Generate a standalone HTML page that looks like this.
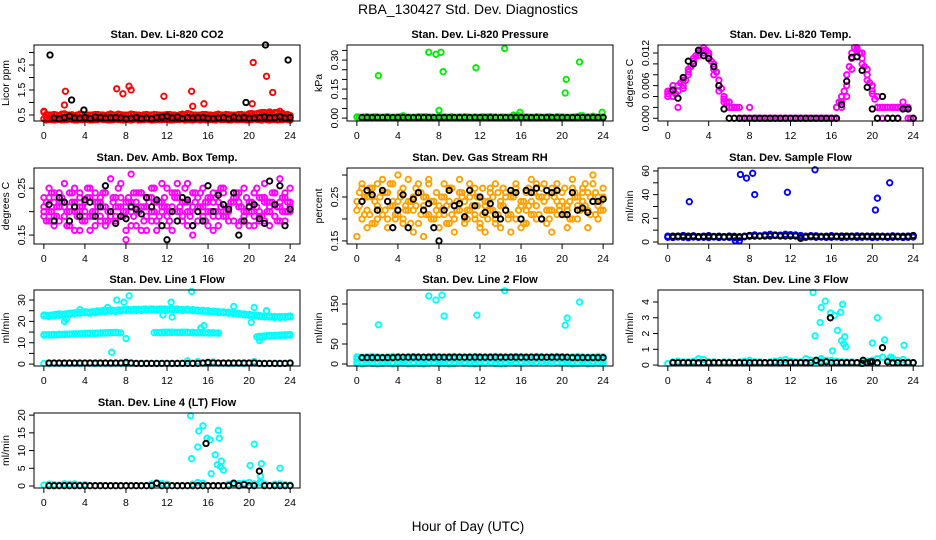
<!DOCTYPE html>
<html><head><meta charset="utf-8"><style>
body{margin:0;background:#fff}
svg{display:block}
text{font-family:"Liberation Sans",sans-serif;fill:#000}
.ttl{font-weight:bold;font-size:11px}
.tk{font-size:10.5px}
</style></head><body>
<svg id="chart" width="936" height="540" viewBox="0 0 936 540">
<text x="468" y="14" text-anchor="middle" font-size="14">RBA_130427  Std. Dev. Diagnostics</text>
<text x="468" y="531" text-anchor="middle" font-size="13.5">Hour of Day (UTC)</text>
</svg>
<script>
const HOURS=[0,0.5,1,1.5,2,2.5,3,3.5,4,4.5,5,5.5,6,6.5,7,7.5,8,8.5,9,9.5,10,10.5,11,11.5,12,12.5,13,13.5,14,14.5,15,15.5,16,16.5,17,17.5,18,18.5,19,19.5,20,20.5,21,21.5,22,22.5,23,23.5,24];
const HOURS2=[0.25,0.75,1.25,1.75,2.25,2.75,3.25,3.75,4.25,4.75,5.25,5.75,6.25,6.75,7.25,7.75,8.25,8.75,9.25,9.75,10.25,10.75,11.25,11.75,12.25,12.75,13.25,13.75,14.25,14.75,15.25,15.75,16.25,16.75,17.25,17.75,18.25,18.75,19.25,19.75,20.25,20.75,21.25,21.75,22.25,22.75,23.25,23.75];
const xTicks=[0,4,8,12,16,20,24];
// P1 CO2
const co2RedA=[0.35,0.32,0.3,0.33,0.31,0.34,0.3,0.32,0.33,0.3,0.31,0.34,0.32,0.3,0.33,0.31,0.32,0.3,0.34,0.31,0.33,0.3,0.32,0.31,0.33,0.3,0.32,0.34,0.31,0.3,0.33,0.32,0.3,0.31,0.34,0.32,0.3,0.33,0.31,0.32,0.3,0.34,0.31,0.33,0.3,0.32,0.31,0.33,0.3];
const co2RedB=[0.62,0.5,0.52,0.48,0.55,0.5,0.47,0.53,0.5,0.49,0.52,0.5,0.48,0.54,0.5,0.51,0.49,0.53,0.5,0.48,0.52,0.5,0.51,0.49,0.52,0.5,0.48,0.53,0.56,0.5,0.49,0.52,0.5,0.48,0.53,0.5,0.51,0.49,0.52,0.5,0.55,0.53,0.58,0.6,0.62,0.6,0.55,0.5,0.48];
const co2RedC=[0.4,0.42,0.38,0.41,0.4,0.43,0.39,0.4,0.42,0.38,0.41,0.4,0.43,0.39,0.4,0.42,0.38,0.41,0.4,0.43,0.39,0.4,0.42,0.38,0.41,0.4,0.43,0.39,0.4,0.42,0.38,0.41,0.4,0.43,0.39,0.4,0.42,0.38,0.41,0.4,0.45,0.42,0.5,0.48,0.52,0.45,0.42,0.4];
const co2RedD=[0.3,0.31,0.32,0.3,0.31,0.32,0.3,0.31,0.32,0.3,0.31,0.32,0.3,0.31,0.32,0.3,0.31,0.32,0.3,0.31,0.32,0.3,0.31,0.32,0.3,0.31,0.32,0.3,0.31,0.32,0.3,0.31,0.32,0.3,0.31,0.32,0.3,0.31,0.32,0.3,0.31,0.32,0.3,0.31,0.32,0.3,0.31,0.32];
const co2RedE=[0.52,0.5,0.5,0.53,0.5,0.51,0.5,0.52,0.5,0.5,0.52,0.5,0.51,0.5,0.53,0.5,0.5,0.52,0.5,0.51,0.5,0.52,0.5,0.5,0.52,0.5,0.51,0.5,0.53,0.5,0.5,0.52,0.5,0.51,0.5,0.52,0.5,0.5,0.52,0.5,0.56,0.55,0.6,0.58,0.55,0.6,0.56,0.52];
const co2RedOutX=[0,2,2.1,7.1,7.7,8.3,8.5,11.7,14.4,14.5,15.6,20.3,20.4,21.7,22.3,23,22];
const co2RedOutY=[0.65,0.9,1.45,1.55,1.35,1.65,1.5,1.25,1.45,0.85,0.95,0.95,2.6,2.05,1.4,0.65,0.6];
const co2Black=[null,null,0.38,0.35,0.4,0.45,0.38,0.37,0.4,0.36,0.42,0.4,0.38,0.39,0.4,0.38,0.35,0.37,0.4,0.36,0.38,0.35,0.4,0.42,0.45,0.38,0.42,0.36,0.4,0.38,0.39,0.4,0.37,0.36,0.38,0.4,0.35,0.42,0.38,0.4,0.37,0.38,0.4,0.42,0.39,0.4,0.43,0.38,0.4];
const co2BlackOutX=[0.6,2.7,3.9,19.7,21.6,23.8];
const co2BlackOutY=[2.9,1.1,0.7,1.0,3.3,2.7];
// P2 Pressure
const presGreen=[0.006,0.004,0.008,0.005,0.006,0.004,0.007,0.005,0.006,0.012,0.005,0.004,0.008,0.006,0.005,0.004,0.007,0.006,0.005,0.004,0.006,0.007,0.005,0.006,0.004,0.005,0.008,0.006,0.005,0.004,0.006,0.012,0.01,0.006,0.005,0.008,0.004,0.006,0.005,0.007,0.006,0.004,0.005,0.008,0.012,0.006,0.01,0.005,0.006];
const presGreen2=[0.005,0.006,0.004,0.007,0.005,0.006,0.004,0.005,0.007,0.006,0.004,0.005,0.006,0.007,0.005,0.004,0.006,0.005,0.007,0.004,0.005,0.006,0.004,0.005,0.007,0.006,0.005,0.004,0.006,0.005,0.015,0.012,0.006,0.005,0.004,0.006,0.005,0.007,0.004,0.006,0.005,0.004,0.006,0.012,0.005,0.004,0.006,0.005];
const presGreenOutX=[2.1,7,7.7,8.2,8.4,8,11.6,14.4,20.3,20.4,21.7,23.9,15.9];
const presGreenOutY=[0.22,0.34,0.33,0.34,0.24,0.04,0.26,0.36,0.13,0.2,0.29,0.03,0.03];
const presBlack=[null,0.003,0.003,0.003,0.003,0.003,0.003,0.003,0.003,0.003,0.003,0.003,0.003,0.003,0.003,0.003,0.003,0.003,0.003,0.003,0.003,0.003,0.003,0.003,0.003,0.003,0.003,0.003,0.003,0.003,0.003,0.003,0.003,0.003,0.003,0.003,0.003,0.003,0.003,0.003,0.003,0.003,0.003,0.003,0.003,0.003,0.003,0.003,0.003];
// P3 Temp
const tempMagA=[0.004,0.006,0.005,0.007,0.009,0.011,0.012,0.013,0.012,0.010,0.007,0.004,0.003,0.002,0.002,0,0,0,0,0,0,0,0,0,0,0,0,0,0,0,0,0,0,0,0.002,0.006,0.011,0.013,0.012,0.009,0.006,0.004,0.002,0.002,0.002,0.002,0.002,0.002,0];
const tempMagB=[0.0045,0.004,0.002,0.0055,0.008,0.010,0.0115,0.012,0.011,0.008,0.005,0.003,0.002,0.002,0,0,0.002,0,0,0,0,0,0,0,0,0,0,0,0,0,0,0,0,0.002,0.004,0.004,0.009,0.0125,0.010,0.007,0.0045,0.002,0,0,0,0,0.003,0,0];
const tempMagC=[0.005,0.005,0.006,0.006,0.0085,0.0105,0.0125,0.0125,0.0115,0.009,0.006,0.0035,0.002,null,null,null,null,null,null,null,null,null,null,null,null,null,null,null,null,null,null,null,null,0.002,0.003,0.008,0.012,0.0128,0.011,0.008,0.005,0.002,0.002,null,0.002,0.002,0.002,null,null];
const tempMagD=[0.005,0.0045,0.0065,0.007,0.0095,0.0115,0.0125,0.0125,0.0105,0.0085,0.0055,0.003,0.002,0.002,0,0,0,0,0,0,0,0,0,0,0,0,0,0,0,0,0,0,0,0.003,0.005,0.0095,0.013,0.012,0.0095,0.0065,0.0035,0.002,0.002,0.002,0.002,0.002,0.002,0];
const tempBlack=[null,0.0052,0.0037,0.0075,0.0105,0.010,0.0125,0.0115,0.011,0.0095,0.006,0.0017,0,0,0,0,0,0,0,0,0,0,0,0,0,0,0,0,0,0,0,0,0,0,0.0025,0.0068,0.0112,0.0113,0.0088,0.0057,0.0017,0,0.004,0,0,0,0.0017,0.0017,0];
// P4 Amb box temp
const ambMagA=[0.21,0.23,0.19,0.24,0.22,0.2,0.25,0.21,0.19,0.23,0.2,0.22,0.24,0.19,0.21,0.23,0.2,0.22,0.24,0.21,0.19,0.23,0.22,0.2,0.25,0.21,0.23,0.19,0.22,0.24,0.2,0.21,0.23,0.19,0.22,0.24,0.2,0.23,0.21,0.19,0.22,0.24,0.2,0.23,0.21,0.19,0.22,0.24,0.2];
const ambMagB=[0.19,0.2,0.22,0.18,0.21,0.24,0.2,0.23,0.22,0.19,0.24,0.18,0.21,0.2,0.23,0.19,0.22,0.2,0.21,0.24,0.23,0.2,0.18,0.22,0.21,0.2,0.24,0.22,0.2,0.21,0.23,0.19,0.2,0.22,0.24,0.19,0.21,0.22,0.24,0.2,0.21,0.19,0.23,0.22,0.2,0.24,0.21,0.23,0.22];
const ambMagC=[0.23,0.18,0.24,0.21,0.26,0.17,0.22,0.16,0.2,0.25,0.17,0.23,0.18,0.27,0.18,0.26,0.16,0.28,0.17,0.24,0.16,0.25,0.18,0.26,0.17,0.24,0.26,0.18,0.26,0.17,0.18,0.25,0.17,0.24,0.17,0.25,0.18,0.24,0.17,0.25,0.17,0.24,0.18,0.26,0.17,0.24,0.27,0.18,0.25];
const ambMagD=[0.2,0.25,0.17,0.22,0.19,0.21,0.16,0.24,0.18,0.16,0.22,0.19,0.17,0.2,0.19,0.21,0.14,0.17,0.22,0.16,0.21,0.18,0.16,0.21,0.19,0.16,0.2,0.23,0.17,0.15,0.21,0.2,0.22,0.16,0.19,0.2,0.21,0.18,0.22,0.18,0.2,0.17,0.19,0.18,0.22,0.19,0.18,0.2,0.21];
const ambMagE=[0.22,0.2,0.21,0.23,0.2,0.22,0.19,0.21,0.23,0.2,0.22,0.21,0.2,0.23,0.21,0.19,0.22,0.24,0.2,0.21,0.23,0.2,0.22,0.21,0.2,0.23,0.21,0.22,0.2,0.24,0.21,0.22,0.2,0.23,0.21,0.2,0.22,0.23,0.21,0.2,0.22,0.21,0.23,0.2,0.22,0.21,0.2,0.22];
const ambMagF=[0.18,0.24,0.19,0.22,0.17,0.24,0.2,0.18,0.25,0.19,0.21,0.24,0.18,0.22,0.25,0.2,0.23,0.19,0.24,0.18,0.22,0.25,0.19,0.23,0.18,0.24,0.2,0.25,0.19,0.22,0.24,0.18,0.23,0.2,0.25,0.19,0.22,0.24,0.18,0.23,0.2,0.25,0.19,0.22,0.24,0.18,0.23,0.2];
const ambBlack=[null,0.215,0.18,0.23,0.22,0.18,0.21,0.19,0.225,0.22,0.19,0.21,0.255,0.2,0.175,0.19,0.185,0.21,0.205,0.195,0.23,0.21,0.225,0.17,0.14,0.2,0.18,0.23,0.225,0.17,0.2,0.18,0.255,0.2,0.235,0.215,0.205,0.24,0.15,0.18,0.21,0.215,0.185,0.175,0.265,0.215,0.255,0.17,0.205];
// P5 Gas stream RH
const rhOrA=[0.24,0.27,0.22,0.25,0.28,0.21,0.26,0.23,0.24,0.27,0.22,0.25,0.26,0.23,0.28,0.24,0.21,0.25,0.27,0.23,0.26,0.24,0.22,0.27,0.25,0.23,0.26,0.28,0.24,0.22,0.25,0.27,0.23,0.26,0.24,0.28,0.25,0.22,0.27,0.24,0.26,0.23,0.27,0.25,0.24,0.26,0.28,0.25,0.27];
const rhOrB=[0.22,0.2,0.25,0.19,0.23,0.26,0.2,0.24,0.21,0.2,0.24,0.22,0.19,0.25,0.21,0.2,0.23,0.21,0.24,0.2,0.22,0.2,0.25,0.21,0.19,0.24,0.22,0.2,0.23,0.25,0.21,0.2,0.24,0.22,0.21,0.23,0.2,0.25,0.22,0.21,0.24,0.22,0.2,0.23,0.26,0.22,0.24,0.23,0.25];
const rhOrC=[0.16,0.28,0.18,0.27,0.2,0.29,0.18,0.28,0.3,0.19,0.29,0.17,0.28,0.16,0.29,0.2,0.18,0.28,0.19,0.17,0.29,0.19,0.28,0.2,0.18,0.17,0.27,0.19,0.18,0.26,0.17,0.28,0.18,0.19,0.29,0.2,0.27,0.19,0.17,0.28,0.21,0.18,0.29,0.2,0.27,0.18,0.3,0.2,0.22];
const rhOrD=[0.23,0.25,0.21,0.24,0.22,0.26,0.23,0.21,0.25,0.22,0.24,0.23,0.26,0.21,0.24,0.22,0.25,0.23,0.21,0.24,0.26,0.22,0.23,0.25,0.21,0.24,0.22,0.26,0.23,0.21,0.25,0.22,0.24,0.23,0.26,0.21,0.24,0.22,0.25,0.23,0.21,0.24,0.26,0.22,0.23,0.25,0.21,0.24];
const rhOrE=[0.26,0.21,0.27,0.19,0.25,0.22,0.28,0.2,0.26,0.23,0.19,0.27,0.21,0.25,0.2,0.26,0.22,0.19,0.27,0.22,0.25,0.2,0.26,0.23,0.27,0.2,0.25,0.21,0.27,0.2,0.26,0.22,0.19,0.27,0.21,0.25,0.28,0.2,0.26,0.22,0.27,0.2,0.25,0.22,0.28,0.21,0.26,0.22];
const rhBlack=[null,0.24,0.265,0.255,0.22,0.265,0.24,0.18,0.22,0.255,0.18,0.245,0.26,0.22,0.235,0.18,0.15,0.22,0.265,0.23,0.235,0.205,0.265,0.23,0.25,0.215,0.235,0.21,0.2,0.22,0.265,0.26,0.2,0.265,0.26,0.27,0.2,0.265,0.26,0.265,0.21,0.21,0.26,0.22,0.225,0.215,0.24,0.24,0.245];
// P6 Sample flow
const sfBlueA=[5,4.5,5,5.5,4.8,5.2,4.6,5,5.3,4.7,5,4.5,5.1,4.8,1,5,5.5,6,5.2,6,6.5,6,5.8,6.5,6.2,6,5.5,5,5.4,5.2,4.8,5,5.3,4.7,5.1,5,4.8,5.2,5,4.9,5.1,4.7,5,4.8,5.2,5,4.9,5.1,5.2];
const sfBlueB=[4,3.8,4.2,4,3.6,4.1,3.9,4,3.7,4.2,3.8,4,3.9,3.5,3.8,4.5,4.8,5,5,5.5,5.8,5.5,5.6,5.5,5.5,5.2,4.5,4.2,4.3,4,4.1,3.9,4,4.2,3.8,4,4.1,3.9,4,4.2,3.8,4,4.1,3.9,4,4.2,3.8,4,4.1];
const sfBlueOutX=[2.1,7.1,7.7,8.3,8.5,11.7,14.4,20.3,20.5,21.7,6.6];
const sfBlueOutY=[34,57,54,58,40,42,61,27,37,50,1];
const sfBlack=[null,5,5,5,5,5,4.5,4.5,5,4.5,4.5,4.5,4.5,4.5,4.5,4.5,5.5,5,5,5,5,5.5,5,5,5,5,3,4,5,4.5,4.5,4.5,4.5,5,5,5,5,4.5,5,5,4.5,5,4.5,4.5,4.5,4.5,4.5,4.5,5.5];
// P7 Line 1 flow
const l1Upper=[23,22.8,23.2,23.5,23.4,23.8,24,24.2,24.5,24.3,24.5,24.8,25,25.2,25,25.3,25.5,25.4,25.6,25.5,25.7,25.8,25.6,25.8,25.7,25.9,25.8,25.6,25.7,25.5,25.3,25.2,25,24.8,24.6,24.5,24.3,24,23.8,23.5,23.3,23,22.8,22.5,22.5,22.3,22.2,22.3,22.5];
const l1Upper2=[22.5,22.3,22.5,22.8,23,23.2,23.5,23.8,24,23.8,24,24.3,24.5,24.7,24.5,24.8,25,24.9,25,25.1,25.2,25.3,25.1,25.3,25.2,25.4,25.3,25.1,25.2,25,24.8,24.7,24.5,24.3,24.1,24,23.8,23.5,23.3,23,22.8,22.5,22.3,22,22,21.8,21.8,21.9,22];
const l1Upper3=[22.8,23,23.3,23.4,23.6,23.9,24.1,24.3,24.4,24.6,24.9,25.1,25.1,25.2,25.4,25.5,25.5,25.6,25.6,25.8,25.7,25.7,25.8,25.8,25.7,25.7,25.5,25.4,25.3,25.1,24.9,24.8,24.6,24.5,24.3,24.1,23.9,23.6,23.4,23.2,22.9,22.6,22.4,22.3,22.1,22.1,22.2,22.3];
const l1Lower=[13.8,13.8,13.9,14,14,14.1,14.2,14.3,14.4,14.5,14.5,14.6,14.7,14.8,14.9,14.6,null,null,null,null,null,null,14.8,14.9,15,15,14.9,15,15,14.9,14.8,14.8,14.7,14.7,14.6,null,null,null,null,null,null,null,13,13.2,13.4,13.5,13.6,13.7,13.8];
const l1Lower2=[13.5,13.6,13.6,13.7,13.8,13.9,14,14.1,14.2,14.3,14.3,14.4,14.5,14.6,14.7,null,null,null,null,null,null,null,null,14.6,14.7,14.8,14.7,14.8,14.8,14.7,14.6,14.6,14.5,14.5,14.4,null,null,null,null,null,null,null,12.5,12.8,13,13.2,13.3,13.4,13.5];
const l1Lower3=[13.7,13.7,13.8,13.9,14,14.1,14.2,14.3,14.4,14.4,14.5,14.6,14.7,14.8,14.7,null,null,null,null,null,null,14.7,14.8,14.9,14.9,14.9,14.9,14.9,14.8,14.7,14.7,14.6,14.6,14.5,null,null,null,null,null,null,null,12.8,13.1,13.3,13.4,13.5,13.6,13.7];
const l1OutX=[2,3.5,6.2,6.6,7.1,7.8,8,8.3,12.4,14.4,15.3,15.6,18.5,20.2,21,21.7,20.5,12.5,11.6,2.2,12.1];
const l1OutY=[20,25.5,26.5,5.5,30,29,12,32,29,34,17,18,27,19.5,11,25,26.5,22,23,21,15];
const l1Black=[null,0.5,0.5,0.5,0.5,0.5,0.5,0.5,0.5,0.5,0.5,0.5,0.5,0.5,0.5,0.5,0.8,0.5,0.3,0.3,0.3,0.3,0.3,0.3,0.3,0.3,0.3,0.3,0.3,0.3,0.3,0.5,0.8,0.5,0.5,0.5,0.5,0.5,0.5,0.5,0.5,0.5,0.3,0.3,0.3,0.3,0.3,0.3,0.5];
const l1CyanLow=[0.3,0.2,0.3,0.3,0.2,0.3,0.3,0.2,0.3,0.3,0.2,0.3,0.3,0.2,0.3,0.3,0.2,0.3,0.3,0.2,0.3,0.3,0.2,0.3,0.3,0.2,0.3,0.3,1.5,0.3,1.2,0.3,0.3,1,0.3,0.3,0.2,0.3,0.3,0.2,0.3,1.2,0.3,0.2,0.3,0.3,0.2,0.3,0.3];
// P8 Line 2 flow
const l2CyanA=[18,17,18,19,18,17,18,19,18,17,18,19,18,17,18,19,18,17,18,19,18,17,18,19,18,17,18,19,18,17,18,19,18,17,18,19,18,17,18,19,18,17,18,19,18,17,18,19,18];
const l2CyanB=[12,13,11,12,13,12,11,13,12,11,12,13,12,11,13,12,11,12,13,12,11,13,12,11,12,13,12,11,13,12,11,12,13,12,11,13,12,11,12,13,12,11,13,12,11,12,13,12,11];
const l2CyanC=[5,6,5,4,6,5,6,4,5,6,5,4,6,5,6,4,5,6,5,4,6,5,6,4,5,6,5,4,6,5,6,4,5,6,5,4,6,5,6,4,5,6,5,4,6,5,6,4,5];
const l2CyanD=[1,0,2,1,0,1,2,0,1,2,0,1,1,0,2,null,1,2,0,1,null,2,1,0,1,2,null,1,0,1,null,2,1,null,null,null,null,null,null,null,1,2,0,1,2,0,1,2,1];
const l2OutX=[2.1,7,7.7,8.3,8.5,8.1,11.7,14.4,20.3,20.5,21.7];
const l2OutY=[98,170,160,172,120,3,122,183,97,115,155];
const l2Black=[null,16,16,16,16,16,16,16,17,17,17,17,17,17,17,17,17,17,17,17,17,17,17,17,17,17,17,17,17,17,17,17,17,17,17,17,17,17,17,17,17,17,16,16,16,16,16,16,16];
// P9 Line 3 flow
const l3Cyan=[0.1,0.2,0.25,0.2,0.2,0.25,0.4,0.35,0.2,0.2,0.15,0.2,0.2,0.15,0.2,0.25,0.3,0.2,0.2,0.15,0.2,0.25,0.3,0.35,0.25,0.2,0.2,0.4,0.3,0.2,0.25,0.3,0.3,0.25,0.2,0.2,0.2,0.15,0.2,0.25,0.3,0.4,0.5,0.3,0.4,0.3,0.35,0.2,0.15];
const l3OutX=[14.2,14.4,14.9,15,15.4,15.9,16.3,16.1,16.6,16.9,17.1,17,17.2,17.3,17.4,20,20.5,21.2,21.8,23.1,15];
const l3OutY=[4.6,1.85,2.7,3.65,4.05,3.3,3.15,0.9,2.2,3.35,3.85,1.55,1.35,1.8,1.15,1.4,3.0,1.6,0.5,1.25,0.4];
const l3Black=[null,0.15,0.15,0.15,0.15,0.15,0.15,0.15,0.15,0.15,0.15,0.15,0.15,0.15,0.15,0.15,0.15,0.15,0.15,0.15,0.15,0.15,0.15,0.15,0.15,0.15,0.15,0.15,0.15,0.3,0.15,0.2,0.15,0.15,0.15,0.15,0.15,0.15,0.1,0.15,0.2,0.15,1.1,0.2,0.15,0.15,0.15,0.15,0.15];
const l3BlackOutX=[15.9,19.1,19.8];
const l3BlackOutY=[3.0,0.3,0.2];
// P10 Line 4 flow
const l4Cyan=[0.3,0.5,0.4,0.3,0.6,0.5,0.6,0.3,0.4,null,null,null,null,null,null,null,null,null,null,null,null,0.6,0.8,0.7,0.5,null,null,null,null,0.5,1,0.8,null,null,null,null,0.5,0.5,0.7,0.8,1,0.6,0.8,0.5,null,0.5,0.6,0.4,0.3];
const l4OutX=[14.3,14.4,15,15.1,15.5,15.9,16.2,16.3,16.7,16.9,17.1,17,17.2,17.3,17.5,20.1,20.5,21.2,21.1,23,21.1,21.1];
const l4OutY=[19.8,7.7,11,15.5,17,13.5,13,3.5,8.8,6,13.5,15.7,5.5,7,4.5,5.8,11.8,6.3,2.8,5,1.2,0.8];
const l4Black=[null,0.1,0.1,0.1,0.1,0.1,0.1,0.1,0.1,0.1,0.1,0.1,0.1,0.1,0.1,0.1,0.1,0.1,0.1,0.1,0.1,0.1,0.8,0.1,0.1,0.1,0.1,0.1,0.1,0.1,0.1,0.1,0.1,0.1,0.1,0.1,0.1,0.8,0.1,0.4,0.1,0.1,4.2,0.1,0.1,0.1,0.1,0.1,0.1];
const l4BlackOutX=[15.8];
const l4BlackOutY=[12];

const NS='http://www.w3.org/2000/svg';
const svg=document.getElementById('chart');
const COLS=[[34,300],[347,613],[658,923]];
const ROWS=[[45,121],[168,244],[290,366],[413,488]];
function mk(tag,attrs,parent){const e=document.createElementNS(NS,tag);for(const k in attrs)e.setAttribute(k,attrs[k]);(parent||svg).appendChild(e);return e;}

function panel(p){
  const [L,R]=COLS[p.c],[T,B]=ROWS[p.r];
  const g=mk('g',{});
  
  
  const xs=v=>L+(v+0.96)/25.92*(R-L);
  const ys=v=>T+(p.ymax-v)/(p.ymax-p.ymin)*(B-T);
  const t=mk('text',{x:(L+R)/2,y:T-7,'text-anchor':'middle','class':'ttl'},g);t.textContent=p.title;
  
  
  const sg=mk('g',{fill:'none','stroke-width':1.9},g);
  p.series.forEach(s=>{
    const n=Math.min(s.x.length,s.y.length);
    for(let i=0;i<n;i++){
      if(s.y[i]===null||s.y[i]===undefined)continue;
      const c=mk('circle',{cx:xs(s.x[i]).toFixed(1),cy:ys(s.y[i]).toFixed(1),r:2.7,stroke:s.color},sg);
      
      
    }
  });
  const bx=mk('rect',{x:L,y:T,width:R-L,height:B-T,fill:'none',stroke:'#000','stroke-width':1},g);
  
  
  const xa=mk('g',{},g);
  
  
  mk('line',{x1:xs(0),x2:xs(24),y1:B,y2:B,stroke:'#000'},xa);
  xTicks.forEach(v=>{
    mk('line',{x1:xs(v),x2:xs(v),y1:B,y2:B+5,stroke:'#000'},xa);
    const tt=mk('text',{x:xs(v),y:B+18,'text-anchor':'middle','class':'tk'},xa);tt.textContent=v;
  });
  const ya=mk('g',{},g);
  
  
  mk('line',{x1:L,x2:L,y1:ys(p.yt[0]),y2:ys(p.yt[p.yt.length-1]),stroke:'#000'},ya);
  p.yt.forEach(v=>mk('line',{x1:L-5,x2:L,y1:ys(v),y2:ys(v),stroke:'#000'},ya));
  p.yl.forEach((lab,i)=>{
    const y=ys(p.ylv[i]);
    const tt=mk('text',{x:L-9,y:y,'text-anchor':'middle',transform:`rotate(-90 ${L-9} ${y})`,'class':'tk'},ya);tt.textContent=lab;
  });
  const yt=mk('text',{x:L-25,y:(T+B)/2,'text-anchor':'middle',transform:`rotate(-90 ${L-25} ${(T+B)/2})`,'font-size':'10.5'},ya);
  yt.textContent=p.ylab;
  
  
}
const K='#000',RED='#ff0000',GRN='#00ee00',MAG='#ff00ff',ORG='#ffa000',BLU='#0000ff',CY='#00ffff';
panel({name:'panel-co2',c:0,r:0,title:'Stan. Dev. Li-820 CO2',ylab:'Licor ppm',ymin:0.26,ymax:3.3,yt:[0.5,1,1.5,2,2.5,3],ylv:[0.5,1.5,2.5],yl:['0.5','1.5','2.5'],
 series:[{x:HOURS,y:co2RedA,color:RED},{x:HOURS,y:co2RedB,color:RED},{x:HOURS2,y:co2RedC,color:RED},{x:HOURS2,y:co2RedD,color:RED},{x:HOURS2,y:co2RedE,color:RED},{x:co2RedOutX,y:co2RedOutY,color:RED},{x:HOURS,y:co2Black,color:K},{x:co2BlackOutX,y:co2BlackOutY,color:K}]});
panel({name:'panel-pressure',c:1,r:0,title:'Stan. Dev. Li-820 Pressure',ylab:'kPa',ymin:-0.015,ymax:0.378,yt:[0,0.05,0.1,0.15,0.2,0.25,0.3,0.35],ylv:[0,0.15,0.3],yl:['0.00','0.15','0.30'],
 series:[{x:HOURS,y:presGreen,color:GRN},{x:HOURS2,y:presGreen2,color:GRN},{x:presGreenOutX,y:presGreenOutY,color:GRN},{x:HOURS,y:presBlack,color:K}]});
panel({name:'panel-li820-temp',c:2,r:0,title:'Stan. Dev. Li-820 Temp.',ylab:'degrees C',ymin:-0.0005,ymax:0.01347,yt:[0,0.002,0.004,0.006,0.008,0.01,0.012],ylv:[0,0.006,0.012],yl:['0.000','0.006','0.012'],
 series:[{x:HOURS,y:tempMagA,color:MAG},{x:HOURS,y:tempMagB,color:MAG},{x:HOURS,y:tempMagC,color:MAG},{x:HOURS2,y:tempMagD,color:MAG},{x:HOURS,y:tempBlack,color:K}]});
panel({name:'panel-amb-box-temp',c:0,r:1,title:'Stan. Dev. Amb. Box Temp.',ylab:'degrees C',ymin:0.131,ymax:0.293,yt:[0.15,0.2,0.25],ylv:[0.15,0.25],yl:['0.15','0.25'],
 series:[{x:HOURS,y:ambMagA,color:MAG},{x:HOURS,y:ambMagB,color:MAG},{x:HOURS,y:ambMagC,color:MAG},{x:HOURS,y:ambMagD,color:MAG},{x:HOURS2,y:ambMagE,color:MAG},{x:HOURS2,y:ambMagF,color:MAG},{x:HOURS,y:ambBlack,color:K}]});
panel({name:'panel-gas-rh',c:1,r:1,title:'Stan. Dev. Gas Stream RH',ylab:'percent',ymin:0.143,ymax:0.316,yt:[0.15,0.2,0.25,0.3],ylv:[0.15,0.25],yl:['0.15','0.25'],
 series:[{x:HOURS,y:rhOrA,color:ORG},{x:HOURS,y:rhOrB,color:ORG},{x:HOURS,y:rhOrC,color:ORG},{x:HOURS2,y:rhOrD,color:ORG},{x:HOURS2,y:rhOrE,color:ORG},{x:HOURS,y:rhBlack,color:K}]});
panel({name:'panel-sample-flow',c:2,r:1,title:'Stan. Dev. Sample Flow',ylab:'ml/min',ymin:-1.7,ymax:62.5,yt:[0,10,20,30,40,50,60],ylv:[0,20,40,60],yl:['0','20','40','60'],
 series:[{x:HOURS,y:sfBlueA,color:BLU},{x:HOURS,y:sfBlueB,color:BLU},{x:sfBlueOutX,y:sfBlueOutY,color:BLU},{x:HOURS,y:sfBlack,color:K}]});
panel({name:'panel-line1-flow',c:0,r:2,title:'Stan. Dev. Line 1 Flow',ylab:'ml/min',ymin:-0.9,ymax:34.7,yt:[0,5,10,15,20,25,30],ylv:[0,10,20,30],yl:['0','10','20','30'],
 series:[{x:HOURS,y:l1Upper,color:CY},{x:HOURS,y:l1Upper2,color:CY},{x:HOURS2,y:l1Upper3,color:CY},{x:HOURS,y:l1Lower,color:CY},{x:HOURS,y:l1Lower2,color:CY},{x:HOURS2,y:l1Lower3,color:CY},{x:l1OutX,y:l1OutY,color:CY},{x:HOURS,y:l1CyanLow,color:CY},{x:HOURS,y:l1Black,color:K}]});
panel({name:'panel-line2-flow',c:1,r:2,title:'Stan. Dev. Line 2 Flow',ylab:'ml/min',ymin:-5,ymax:185,yt:[0,50,100,150],ylv:[0,50,150],yl:['0','50','150'],
 series:[{x:HOURS,y:l2CyanA,color:CY},{x:HOURS,y:l2CyanB,color:CY},{x:HOURS,y:l2CyanC,color:CY},{x:HOURS,y:l2CyanD,color:CY},{x:l2OutX,y:l2OutY,color:CY},{x:HOURS,y:l2Black,color:K}]});
panel({name:'panel-line3-flow',c:2,r:2,title:'Stan. Dev. Line 3 Flow',ylab:'ml/min',ymin:-0.06,ymax:4.76,yt:[0,1,2,3,4],ylv:[0,1,2,3,4],yl:['0','1','2','3','4'],
 series:[{x:HOURS,y:l3Cyan,color:CY},{x:l3OutX,y:l3OutY,color:CY},{x:HOURS,y:l3Black,color:K},{x:l3BlackOutX,y:l3BlackOutY,color:K}]});
panel({name:'panel-line4-flow',c:0,r:3,title:'Stan. Dev. Line 4 (LT) Flow',ylab:'ml/min',ymin:-0.56,ymax:20.6,yt:[0,5,10,15,20],ylv:[0,5,10,15,20],yl:['0','5','10','15','20'],
 series:[{x:HOURS,y:l4Cyan,color:CY},{x:l4OutX,y:l4OutY,color:CY},{x:HOURS,y:l4Black,color:K},{x:l4BlackOutX,y:l4BlackOutY,color:K}]});
</script>
</body></html>
